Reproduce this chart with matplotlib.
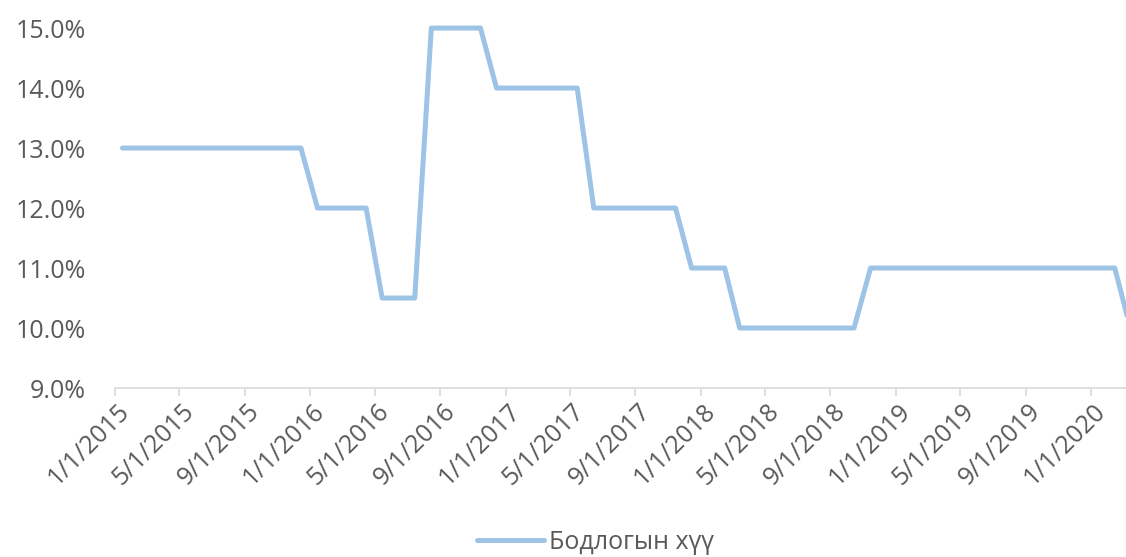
import matplotlib
matplotlib.use("Agg")
import matplotlib.pyplot as plt
import matplotlib.transforms as mtransforms
from matplotlib.ticker import FuncFormatter
import pandas as pd

plt.rcParams['font.family'] = ['Open Sans', 'DejaVu Sans']

# policy rate, one value per month (Jan 2015 - Mar 2020), in %
rate_2015 = [13, 13, 13, 13, 13, 13, 13, 13, 13, 13, 13, 13]
rate_2016 = [12, 12, 12, 12, 10.5, 10.5, 10.5, 15, 15, 15, 15, 14]
rate_2017 = [14, 14, 14, 14, 14, 12, 12, 12, 12, 12, 12, 11]
rate_2018 = [11, 11, 10, 10, 10, 10, 10, 10, 10, 10, 11, 11]
rate_2019 = [11, 11, 11, 11, 11, 11, 11, 11, 11, 11, 11, 11]
rate_2020 = [11, 11, 10]
rates = rate_2015 + rate_2016 + rate_2017 + rate_2018 + rate_2019 + rate_2020
dates = pd.date_range("2015-01-01", periods=len(rates), freq="MS") + pd.Timedelta(days=14)

tick_dates = pd.date_range("2015-01-01", "2020-01-01", freq="4MS")
tick_labels = [f"{d.month}/{d.day}/{d.year}" for d in tick_dates]
legend_label = "Бодлогын хүү"

fig = plt.figure(figsize=(11.26, 5.57), dpi=100)
ax = fig.add_axes([0.1021, 0.3034, 0.8979, 0.657])

ax.plot(dates, [r / 100 for r in rates], color="#9DC3E6", linewidth=3.6,
        solid_joinstyle="round", solid_capstyle="round", label=legend_label)

ax.set_xlim(pd.Timestamp("2015-01-01"), pd.Timestamp("2020-03-07"))
ax.set_ylim(0.09, 0.151)
ax.set_yticks([0.09, 0.10, 0.11, 0.12, 0.13, 0.14, 0.15])
ax.yaxis.set_major_formatter(FuncFormatter(lambda v, p: f"{v * 100:.1f}%"))
ax.tick_params(axis="y", length=0, pad=21, labelsize=18, labelcolor="#595959")

ax.set_xticks(tick_dates)
ax.set_xticklabels(tick_labels, rotation=45, ha="right", va="center",
                   rotation_mode="anchor")
ax.tick_params(axis="x", length=6, width=1.2, color="#d9d9d9", direction="out",
               pad=8, labelsize=18, labelcolor="#595959")
shift = mtransforms.ScaledTranslation(11 / 100, 0, fig.dpi_scale_trans)
for lab in ax.get_xticklabels():
    lab.set_transform(lab.get_transform() + shift)

for s in ["top", "right", "left"]:
    ax.spines[s].set_visible(False)
ax.spines["bottom"].set_color("#d9d9d9")
ax.spines["bottom"].set_linewidth(1.2)

fig.legend(loc="center", bbox_to_anchor=(0.529, 0.026), frameon=False,
           fontsize=18, handlelength=2.7, handletextpad=0.2,
           labelcolor="#595959", borderaxespad=0, borderpad=0)

fig.savefig("out.png", dpi=100)
